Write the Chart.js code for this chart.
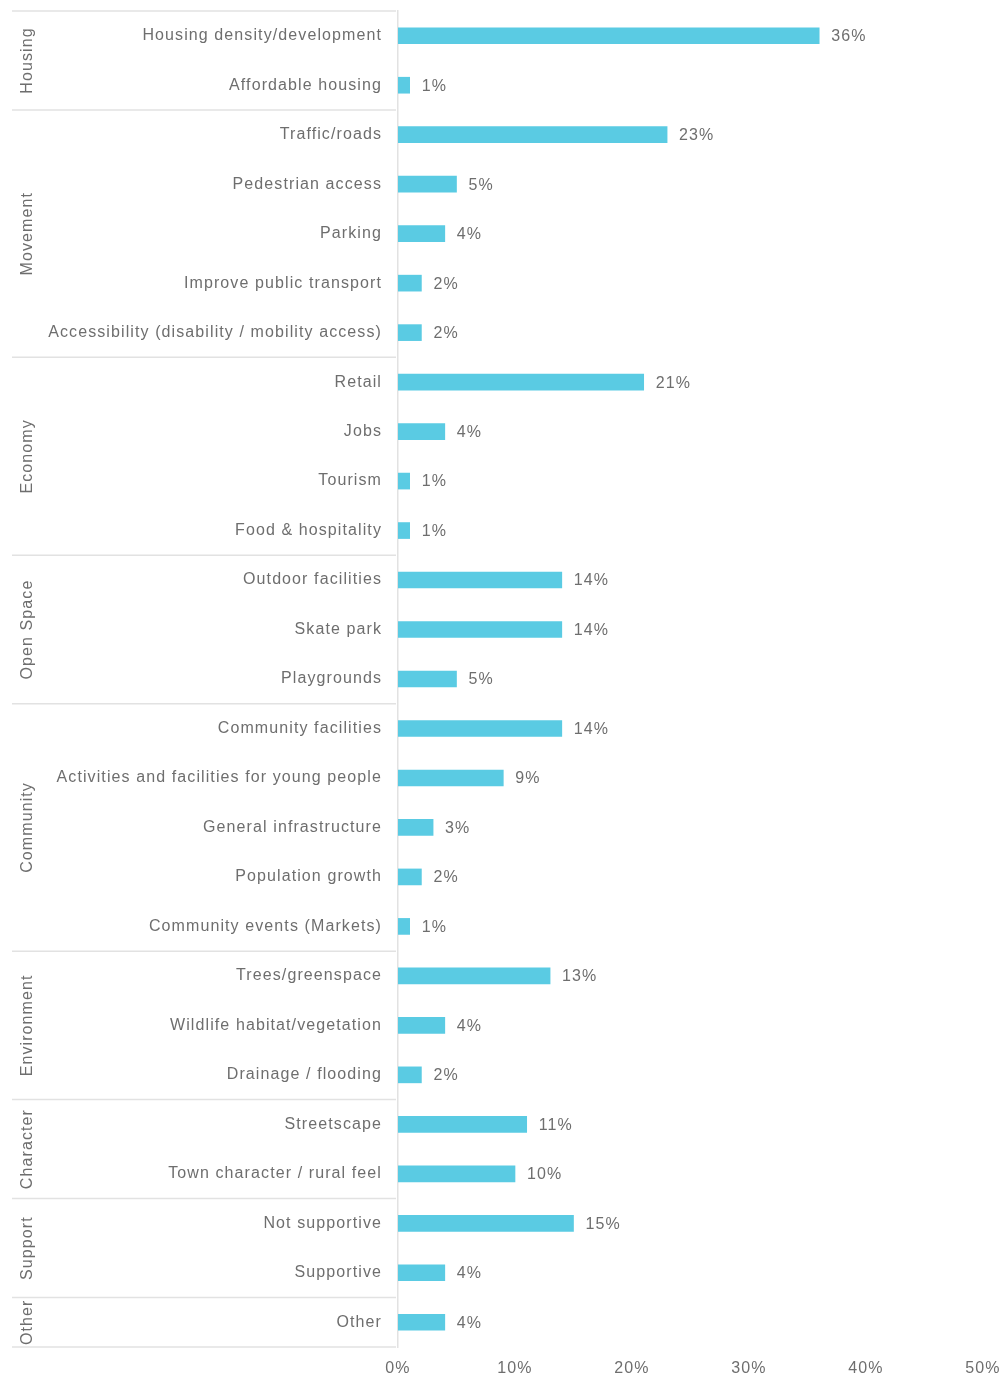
<!DOCTYPE html>
<html>
<head>
<meta charset="utf-8">
<script src="https://cdn.jsdelivr.net/npm/chart.js@4.4.0/dist/chart.umd.min.js"></script>
<style>
    html, body { margin: 0; padding: 0; background: #fff; }
    #wrap { position: relative; width: 1005px; height: 1379px; }
</style>
</head>
<body>
<div id="wrap"><canvas id="themesChart"></canvas></div>
<script>
const labels = [
    "Housing density/development", "Affordable housing",
    "Traffic/roads", "Pedestrian access", "Parking", "Improve public transport", "Accessibility (disability / mobility access)",
    "Retail", "Jobs", "Tourism", "Food & hospitality",
    "Outdoor facilities", "Skate park", "Playgrounds",
    "Community facilities", "Activities and facilities for young people", "General infrastructure", "Population growth", "Community events (Markets)",
    "Trees/greenspace", "Wildlife habitat/vegetation", "Drainage / flooding",
    "Streetscape", "Town character / rural feel",
    "Not supportive", "Supportive",
    "Other"
];
const values = [36, 1, 23, 5, 4, 2, 2, 21, 4, 1, 1, 14, 14, 5, 14, 9, 3, 2, 1, 13, 4, 2, 11, 10, 15, 4, 4];

// themes and how many rows each one covers
const groupNames = ["Housing", "Movement", "Economy", "Open Space", "Community", "Environment", "Character", "Support", "Other"];
const groupSizes = [2, 5, 4, 3, 5, 3, 2, 2, 1];

const xTicks = [0, 10, 20, 30, 40, 50];

const FONT = "'Liberation Sans', Arial, sans-serif";
const TEXT = '#6e6e6e';
const LINE = '#e2e2e2';
const SPACING = '1.1px';

// the text in this chart is slightly tracked out
const spacingPlugin = {
    id: 'spacing',
    beforeDraw(chart) {
        chart.ctx.letterSpacing = SPACING;
    }
};

// group separators and rotated theme names on the left
const groupPlugin = {
    id: 'groups',
    afterDraw(chart) {
        const ctx = chart.ctx;
        const y = chart.scales.y;
        const half = (y.getPixelForValue(1) - y.getPixelForValue(0)) / 2;
        let start = 0;
        ctx.save();
        ctx.letterSpacing = SPACING;
        ctx.strokeStyle = LINE;
        ctx.lineWidth = 1.5;
        groupSizes.forEach((n, i) => {
            const top = y.getPixelForValue(start) - half;
            const bottom = y.getPixelForValue(start + n - 1) + half;
            ctx.beginPath();
            ctx.moveTo(12, top);
            ctx.lineTo(chart.chartArea.left - 2, top);
            ctx.stroke();
            if (i === groupSizes.length - 1) {
                ctx.beginPath();
                ctx.moveTo(12, bottom);
                ctx.lineTo(chart.chartArea.left - 2, bottom);
                ctx.stroke();
            }
            ctx.save();
            ctx.translate(28, (top + bottom) / 2);
            ctx.rotate(-Math.PI / 2);
            ctx.fillStyle = TEXT;
            ctx.font = '16px ' + FONT;
            ctx.textAlign = 'center';
            ctx.textBaseline = 'middle';
            ctx.fillText(groupNames[i], 0, 0);
            ctx.restore();
            start += n;
        });
        ctx.restore();
    }
};

// percentage next to each bar
const valuePlugin = {
    id: 'values',
    afterDatasetsDraw(chart) {
        const ctx = chart.ctx;
        const meta = chart.getDatasetMeta(0);
        ctx.save();
        ctx.letterSpacing = SPACING;
        ctx.fillStyle = TEXT;
        ctx.font = '16px ' + FONT;
        ctx.textAlign = 'left';
        ctx.textBaseline = 'middle';
        meta.data.forEach((bar, i) => {
            ctx.fillText(values[i] + '%', bar.x + 12, bar.y + 1);
        });
        ctx.restore();
    }
};

const ctx = document.getElementById('themesChart').getContext('2d');

new Chart(ctx, {
    type: 'bar',
    data: {
        labels: labels,
        datasets: [{
            data: values,
            backgroundColor: '#5ACBE3',
            borderWidth: 0,
            barThickness: 16
        }]
    },
    plugins: [spacingPlugin, groupPlugin, valuePlugin],
    options: {
        indexAxis: 'y',
        responsive: true,
        maintainAspectRatio: false,
        animation: false,
        layout: { padding: { top: 11, right: 22, bottom: 0, left: 0 } },
        plugins: {
            legend: { display: false },
            tooltip: { enabled: false }
        },
        scales: {
            x: {
                min: 0,
                max: 50,
                afterBuildTicks(scale) {
                    scale.ticks = xTicks.map(v => ({ value: v }));
                },
                afterFit(scale) {
                    scale.height = 32;
                    scale.paddingLeft = 0;
                    scale.paddingRight = 0;
                },
                grid: { display: false, drawTicks: false },
                border: { display: false },
                ticks: {
                    padding: 12,
                    color: TEXT,
                    font: { family: FONT, size: 16 },
                    callback: v => v + '%'
                }
            },
            y: {
                afterFit(scale) {
                    scale.width = 398;
                    scale.paddingTop = 0;
                    scale.paddingBottom = 0;
                },
                grid: { display: false, drawTicks: false },
                border: { display: true, color: LINE, width: 1.5 },
                ticks: {
                    padding: 16,
                    color: TEXT,
                    autoSkip: false,
                    font: { family: FONT, size: 16 }
                }
            }
        }
    }
});
</script>
</body>
</html>
